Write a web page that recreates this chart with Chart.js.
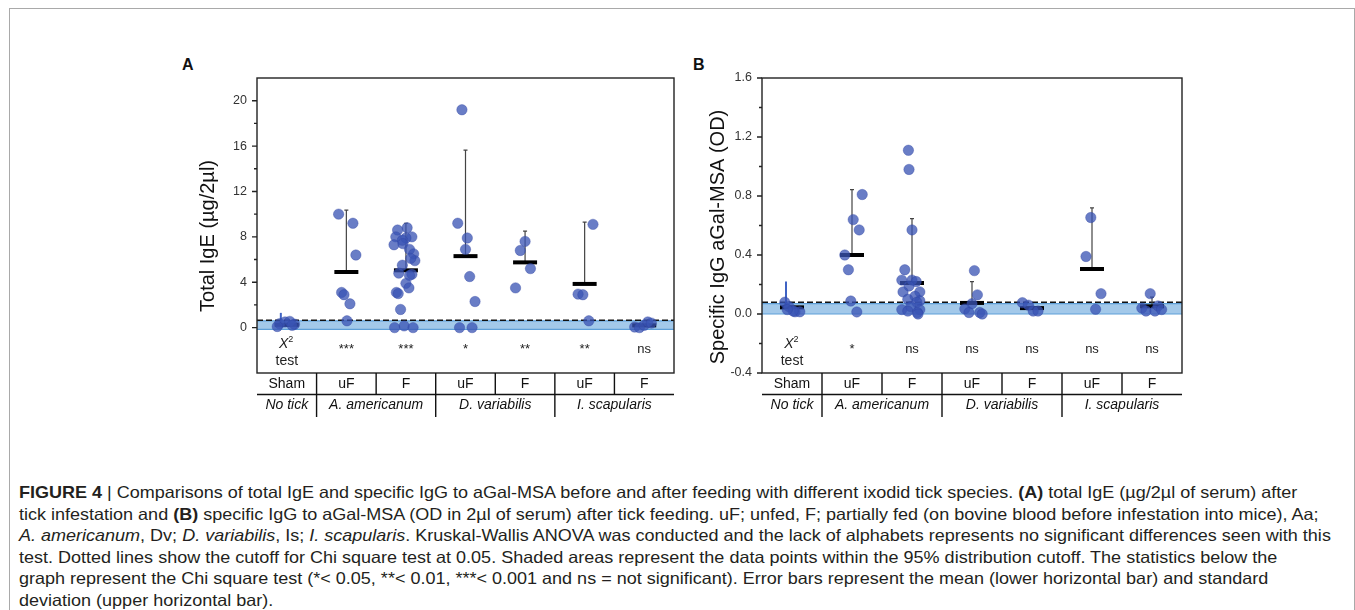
<!DOCTYPE html>
<html>
<head>
<meta charset="utf-8">
<title>Figure 4</title>
<script src="https://cdn.jsdelivr.net/npm/chart.js@4.4.1/dist/chart.umd.min.js"></script>
<style>
  html, body { margin: 0; padding: 0; background: #fff; }
  body { width: 1355px; height: 610px; position: relative; overflow: hidden; font-family: "Liberation Sans", Arial, sans-serif; }
  #frame { position: absolute; left: 9px; top: 8px; width: 1346px; height: 650px; border: 1px solid #a9a9a9; box-sizing: border-box; }
  .panel { position: absolute; top: 40px; height: 400px; }
  #panelA { left: 160px; width: 530px; }
  #panelB { left: 690px; width: 510px; }
  .tag { position: absolute; top: 57px; font-size: 16px; line-height: 16px; font-weight: bold; color: #111; }
  #caption { position: absolute; left: 19px; top: 482px; font-size: 16.5px; line-height: 21.6px; color: #231f20; white-space: nowrap; transform-origin: 0 0; }
  #caption span.l { display: inline-block; }
</style>
</head>
<body>
<div id="frame"></div>
<div class="tag" style="left:182px">A</div>
<div class="tag" style="left:693px">B</div>
<div class="panel" id="panelA"><canvas id="chartA"></canvas></div>
<div class="panel" id="panelB"><canvas id="chartB"></canvas></div>
<div id="caption">
  <div><span class="l"><b>FIGURE 4</b> | Comparisons of total IgE and specific IgG to aGal-MSA before and after feeding with different ixodid tick species. <b>(A)</b> total IgE (µg/2µl of serum) after</span></div>
  <div><span class="l">tick infestation and <b>(B)</b> specific IgG to aGal-MSA (OD in 2µl of serum) after tick feeding. uF; unfed, F; partially fed (on bovine blood before infestation into mice), Aa;</span></div>
  <div><span class="l"><i>A. americanum</i>, Dv; <i>D. variabilis</i>, Is; <i>I. scapularis</i>. Kruskal-Wallis ANOVA was conducted and the lack of alphabets represents no significant differences seen with this</span></div>
  <div><span class="l">test. Dotted lines show the cutoff for Chi square test at 0.05. Shaded areas represent the data points within the 95% distribution cutoff. The statistics below the</span></div>
  <div><span class="l">graph represent the Chi square test (*&lt; 0.05, **&lt; 0.01, ***&lt; 0.001 and ns = not significant). Error bars represent the mean (lower horizontal bar) and standard</span></div>
  <div><span class="l">deviation (upper horizontal bar).</span></div>
</div>
<script>
// categories
const cats = ['Sham', 'uF', 'F', 'uF', 'F', 'uF', 'F'];
const species = ['No tick', 'A. americanum', 'D. variabilis', 'I. scapularis'];
const speciesSpan = [1, 2, 2, 2];

// Panel A - total IgE (ug/2ul), values per category and the horizontal spread of the dots
const igeVals = [
  [0.35, 0.5, 0.55, 0.3, 0.1, 0.2],
  [10.0, 9.2, 6.4, 3.1, 2.9, 2.1, 0.6],
  [8.8, 8.6, 8.0, 8.0, 7.9, 7.7, 7.3, 7.4, 6.9, 6.5, 5.9, 6.1, 5.5, 4.8, 4.7, 4.6, 3.9, 3.5, 3.1, 3.0, 1.6, 0.15, 0.0, 0.0],
  [19.2, 9.2, 7.9, 6.9, 4.5, 2.3, 0.0, 0.0],
  [7.6, 6.8, 5.2, 3.5],
  [9.1, 2.95, 2.9, 0.6],
  [0.05, 0.0, 0.2, 0.5, 0.4]
];
const igeJitter = [
  [-0.12, -0.03, 0.05, 0.13, -0.16, 0.09],
  [-0.13, 0.11, 0.16, -0.08, -0.04, 0.06, 0.01],
  [0.02, -0.14, 0.10, -0.17, 0.00, -0.06, -0.20, -0.05, 0.06, 0.13, 0.15, 0.08, -0.06, -0.12, 0.10, 0.06, 0.00, 0.05, -0.16, -0.13, -0.09, -0.03, -0.19, 0.12],
  [-0.06, -0.13, 0.03, 0.0, 0.07, 0.16, -0.1, 0.11],
  [0.0, -0.08, 0.09, -0.16],
  [0.14, -0.11, -0.03, 0.07],
  [-0.16, -0.08, 0.0, 0.06, 0.12]
];
const igeMean = [0.25, 4.9, 5.05, 6.3, 5.75, 3.85, 0.2];
const igeSdTop = [1.3, 10.35, 9.2, 15.65, 8.5, 9.3, null];
const igeStats = ['', '***', '***', '*', '**', '**', 'ns'];
const igeTicks = [0, 4, 8, 12, 16, 20];
const igeMinor = [2, 6, 10, 14, 18];
const igeBand = [-0.15, 0.6];
const igeCutoff = 0.65;

// Panel B - specific IgG to aGal-MSA (OD)
const iggVals = [
  [0.08, 0.05, 0.015, 0.015, 0.02, 0.03],
  [0.81, 0.64, 0.57, 0.40, 0.30, 0.088, 0.014],
  [1.11, 0.98, 0.57, 0.30, 0.23, 0.23, 0.22, 0.19, 0.15, 0.15, 0.12, 0.10, 0.09, 0.08, 0.05, 0.03, 0.02, 0.03, 0.01, 0.0],
  [0.294, 0.13, 0.07, 0.035, 0.01, 0.01, 0.0],
  [0.077, 0.06, 0.02, 0.02],
  [0.654, 0.39, 0.138, 0.032],
  [0.138, 0.04, 0.02, 0.02, 0.055, 0.03]
];
const iggJitter = [
  [-0.12, -0.05, 0.05, 0.13, 0.02, -0.08],
  [0.17, 0.02, 0.12, -0.12, -0.06, -0.02, 0.08],
  [-0.06, -0.05, 0.0, -0.12, -0.17, 0.0, 0.07, -0.05, -0.15, 0.13, 0.05, -0.07, 0.13, 0.08, -0.02, -0.17, -0.07, 0.13, 0.09, 0.10],
  [0.04, 0.09, 0.0, -0.12, -0.05, 0.13, 0.17],
  [-0.16, -0.06, 0.02, 0.1],
  [-0.02, -0.1, 0.15, 0.06],
  [-0.03, -0.17, -0.1, 0.05, 0.1, 0.16]
];
const iggMean = [0.045, 0.40, 0.21, 0.075, 0.04, 0.305, 0.052];
const iggSdTop = [0.22, 0.843, 0.647, 0.22, null, 0.72, 0.115];
const iggStats = ['', '*', 'ns', 'ns', 'ns', 'ns', 'ns'];
const iggTicks = [-0.4, 0.0, 0.4, 0.8, 1.2, 1.6];
const iggMinor = [-0.2, 0.2, 0.6, 1.0, 1.4];
const iggBand = [0.0, 0.07];
const iggCutoff = 0.08;

const FONT = '"Liberation Sans", Arial, sans-serif';

function pointsOf(vals, jit) {
  const pts = [];
  vals.forEach((g, i) => g.forEach((v, j) => pts.push({ x: i + jit[i][j], y: v })));
  return pts;
}

function panelPlugin(p) {
  return {
    id: 'panelDecor',
    beforeDatasetsDraw(chart) {
      const { ctx, chartArea: a, scales: { x, y } } = chart;
      ctx.save();
      // shaded 95% area
      const b0 = y.getPixelForValue(p.band[0]);
      const b1 = y.getPixelForValue(p.band[1]);
      ctx.fillStyle = '#a3c9ea';
      ctx.fillRect(a.left, b1, a.right - a.left, b0 - b1);
      ctx.strokeStyle = '#5e9fd8';
      ctx.lineWidth = 1.2;
      ctx.beginPath();
      ctx.moveTo(a.left, b0); ctx.lineTo(a.right, b0);
      ctx.moveTo(a.left, b1); ctx.lineTo(a.right, b1);
      ctx.stroke();
      // chi square cutoff
      const c = y.getPixelForValue(p.cutoff);
      ctx.setLineDash([6, 3]);
      ctx.strokeStyle = '#111';
      ctx.lineWidth = 1.5;
      ctx.beginPath(); ctx.moveTo(a.left, c); ctx.lineTo(a.right, c); ctx.stroke();
      ctx.setLineDash([]);
      // SD bars
      p.sdTop.forEach((t, i) => {
        if (t == null) return;
        const sham = i === 0;
        const px = x.getPixelForValue(sham ? i - 0.1 : i);
        const y0 = y.getPixelForValue(p.mean[i]);
        const y1 = y.getPixelForValue(t);
        ctx.strokeStyle = sham ? '#3f63c4' : '#444';
        ctx.lineWidth = sham ? 2 : 1.2;
        ctx.beginPath();
        ctx.moveTo(px, y0); ctx.lineTo(px, y1);
        if (!sham) { ctx.moveTo(px - 2, y1); ctx.lineTo(px + 2, y1); }
        ctx.stroke();
      });
      ctx.restore();
    },
    afterDraw(chart) {
      const { ctx, chartArea: a, scales: { x, y } } = chart;
      ctx.save();
      // frame + y ticks
      ctx.strokeStyle = '#222';
      ctx.lineWidth = 1.4;
      ctx.strokeRect(a.left, a.top, a.right - a.left, a.bottom - a.top);
      ctx.beginPath();
      p.ticks.forEach(v => { const py = y.getPixelForValue(v); ctx.moveTo(a.left - 5, py); ctx.lineTo(a.left, py); });
      p.minor.forEach(v => { const py = y.getPixelForValue(v); ctx.moveTo(a.left - 3, py); ctx.lineTo(a.left, py); });
      ctx.stroke();

      // category table under the plot
      const rowH = 21.5;
      const yb = a.bottom;
      ctx.strokeStyle = '#111';
      ctx.lineWidth = 1.4;
      ctx.beginPath();
      ctx.moveTo(a.left, yb + rowH); ctx.lineTo(a.right, yb + rowH);
      for (let i = 1; i < cats.length; i++) {
        const px = x.getPixelForValue(i - 0.5);
        ctx.moveTo(px, yb); ctx.lineTo(px, yb + rowH);
      }
      let k = 0;
      speciesSpan.forEach((s, j) => {
        k += s;
        if (j < speciesSpan.length - 1) {
          const px = x.getPixelForValue(k - 0.5);
          ctx.moveTo(px, yb + rowH); ctx.lineTo(px, yb + 2 * rowH + 1);
        }
      });
      ctx.stroke();

      ctx.fillStyle = '#111';
      ctx.textAlign = 'center';
      ctx.textBaseline = 'middle';
      ctx.font = '14px ' + FONT;
      cats.forEach((c, i) => ctx.fillText(c, x.getPixelForValue(i), yb + 11));
      ctx.font = 'italic 14px ' + FONT;
      k = 0;
      speciesSpan.forEach((s, j) => {
        const mid = k + (s - 1) / 2;
        ctx.fillText(species[j], x.getPixelForValue(mid), yb + rowH + 11);
        k += s;
      });

      // chi square results
      ctx.textBaseline = 'alphabetic';
      ctx.fillStyle = '#222';
      ctx.font = '13px ' + FONT;
      p.stats.forEach((s, i) => { if (s) ctx.fillText(s, x.getPixelForValue(i), yb - 20); });
      const sx = x.getPixelForValue(0);
      ctx.font = 'italic 14px ' + FONT;
      ctx.fillText('X', sx - 3, yb - 25);
      ctx.font = '9px ' + FONT;
      ctx.fillText('2', sx + 4, yb - 31);
      ctx.font = '14px ' + FONT;
      ctx.fillText('test', sx, yb - 8);

      // y axis title
      ctx.translate(p.titleX, p.titleY);
      ctx.rotate(-Math.PI / 2);
      ctx.font = '20px ' + FONT;
      ctx.fillStyle = '#111';
      ctx.textBaseline = 'middle';
      ctx.fillText(p.title, 0, 0);
      ctx.restore();
    }
  };
}

function buildPanel(id, p) {
  return new Chart(document.getElementById(id), {
    type: 'scatter',
    data: {
      datasets: [
        {
          data: pointsOf(p.vals, p.jitter),
          backgroundColor: 'rgba(58, 84, 180, 0.76)',
          borderColor: 'rgba(45, 65, 160, 0.6)',
          borderWidth: 0.6,
          pointRadius: 5.2
        },
        {
          data: p.mean.map((m, i) => ({ x: i, y: m })),
          pointStyle: 'line',
          pointRadius: 12,
          borderColor: '#000',
          borderWidth: 4
        }
      ]
    },
    options: {
      responsive: true,
      maintainAspectRatio: false,
      animation: false,
      events: [],
      layout: { padding: { top: 38, bottom: 67, left: 0, right: p.padRight } },
      plugins: { legend: { display: false }, tooltip: { enabled: false } },
      scales: {
        x: { type: 'linear', min: -0.5, max: 6.5, display: false },
        y: {
          min: p.min,
          max: p.max,
          afterFit(s) { s.width = p.axisWidth; },
          afterBuildTicks(s) { s.ticks = p.ticks.map(v => ({ value: v })); },
          grid: { display: false, drawTicks: false },
          border: { display: false },
          ticks: {
            padding: 10,
            color: '#333',
            font: { family: FONT, size: 12.5 },
            callback: v => p.fmt(v)
          }
        }
      }
    },
    plugins: [panelPlugin(p)]
  });
}

buildPanel('chartA', {
  vals: igeVals, jitter: igeJitter, mean: igeMean, sdTop: igeSdTop, stats: igeStats,
  ticks: igeTicks, minor: igeMinor, band: igeBand, cutoff: igeCutoff,
  min: -4, max: 22, fmt: v => String(v),
  axisWidth: 97, padRight: 13,
  title: 'Total IgE (µg/2µl)', titleX: 48, titleY: 196
});

buildPanel('chartB', {
  vals: iggVals, jitter: iggJitter, mean: iggMean, sdTop: iggSdTop, stats: iggStats,
  ticks: iggTicks, minor: iggMinor, band: iggBand, cutoff: iggCutoff,
  min: -0.4, max: 1.6, fmt: v => v.toFixed(1),
  axisWidth: 72, padRight: 18,
  title: 'Specific IgG aGal-MSA (OD)', titleX: 28, titleY: 197
});

// caption: squeeze lines to the condensed width of the original
const cap = document.getElementById('caption');
const firstLine = cap.querySelector('span.l');
cap.style.transform = 'scaleX(' + (1278 / firstLine.offsetWidth) + ')';
</script>
</body>
</html>
